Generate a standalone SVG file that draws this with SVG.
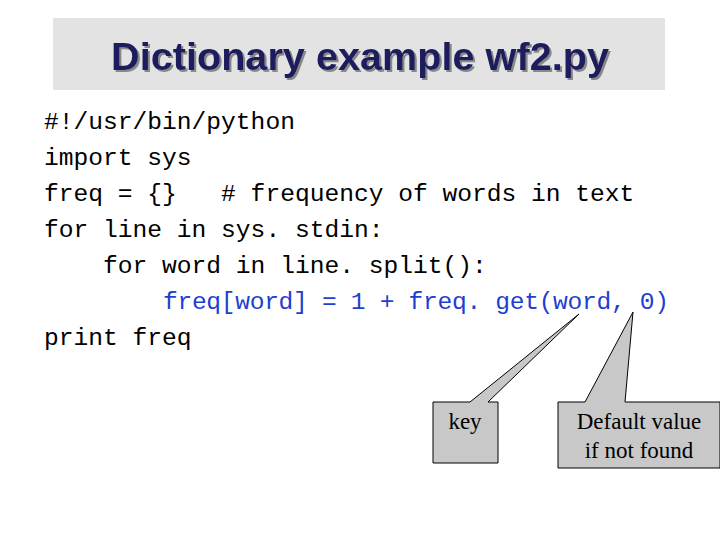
<svg xmlns="http://www.w3.org/2000/svg" width="720" height="540" viewBox="0 0 720 540">
<style>
.code{font-family:"Liberation Mono",monospace;font-size:24.6px;fill:#000}
.call{fill:#c8c8c8;stroke:#000;stroke-width:1}
.lbl{font-family:"Liberation Serif",serif;font-size:23px;fill:#000;text-anchor:middle}
</style>
<defs>
<filter id="sh" x="-5%" y="-20%" width="110%" height="140%"><feDropShadow dx="2" dy="2" stdDeviation="0.5" flood-color="#888"/></filter>
</defs>
<rect width="720" height="540" fill="#fff"/>
<g id="title">
<rect x="53" y="18" width="612" height="72" fill="#e3e3e3"/>
<text x="111" y="70" textLength="498" lengthAdjust="spacingAndGlyphs" filter="url(#sh)" font-family="Liberation Sans,sans-serif" font-weight="bold" font-size="38" fill="#1a1a5e">Dictionary example wf2.py</text>
</g>
<g id="code">
<text class="code" x="44" y="129" xml:space="preserve">#!/usr/bin/python</text>
<text class="code" x="44" y="165" xml:space="preserve">import sys</text>
<text class="code" x="44" y="201" xml:space="preserve">freq = {}   # frequency of words in text</text>
<text class="code" x="44" y="237" xml:space="preserve">for line in sys. stdin:</text>
<text class="code" x="44" y="273" xml:space="preserve">    for word in line. split():</text>
<text class="code" x="163" y="309" textLength="506" style="fill:#1f3fd0">freq[word] = 1 + freq. get(word, 0)</text>
<text class="code" x="44" y="345" xml:space="preserve">print freq</text>
</g>
<g id="key">
<path class="call" d="M433,402 H470 L579,314 L488,402 H498 V463 H433 Z"/>
<text class="lbl" x="465" y="429">key</text>
</g>
<g id="default">
<path class="call" d="M558,402 H585 L633,312 L625,402 H720 V468 H558 Z"/>
<text class="lbl" x="639" y="429">Default value</text>
<text class="lbl" x="639" y="458">if not found</text>
</g>
</svg>
